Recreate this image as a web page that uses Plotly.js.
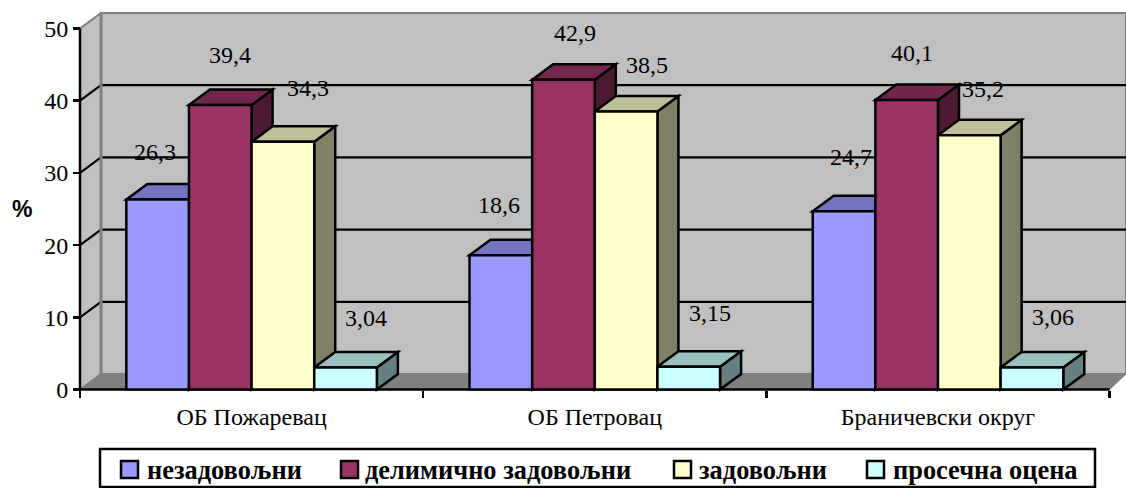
<!DOCTYPE html>
<html>
<head>
<meta charset="utf-8">
<script src="https://cdn.plot.ly/plotly-3.0.1.min.js"></script>
<style>html,body{margin:0;padding:0;background:#fff;overflow:hidden}</style>
</head>
<body>
<div id="chart" style="width:1126px;height:488px"></div>
<script>
const categories = ["ОБ Пожаревац", "ОБ Петровац", "Браничевски округ"];
const seriesNames = ["незадовољни", "делимично задовољни", "задовољни", "просечна оцена"];
const nezadovoljni = [26.3, 18.6, 24.7];
const delimicno = [39.4, 42.9, 40.1];
const zadovoljni = [34.3, 38.5, 35.2];
const prosecna = [3.04, 3.15, 3.06];
const labelsA = ["26,3", "18,6", "24,7"];
const labelsB = ["39,4", "42,9", "40,1"];
const labelsC = ["34,3", "38,5", "35,2"];
const labelsD = ["3,04", "3,15", "3,06"];
const yTicks = [0, 10, 20, 30, 40, 50];

const series = [nezadovoljni, delimicno, zadovoljni, prosecna];
const labels = [labelsA, labelsB, labelsC, labelsD];
const frontCol = ["#9999FF", "#993366", "#FFFFCC", "#CCFFFF"];
const topCol = ["#7373BF", "#73264D", "#BFBF99", "#99BFBF"];
const sideCol = ["#4D4D80", "#4D1A33", "#808066", "#668080"];
// label nudges in px (x, y) relative to the bar centre and top
const nudgeX = [[-3,-2,7],[10,12,5],[25,21,14],[20,21,21]];
const nudgeY = [[48,50,54],[50,47,47],[54,47,46],[50,54,50]];
// hand-laid legend geometry, px
const legendSwatchX = [121, 341, 674, 867];
const legendTextX = [146, 364, 698, 892];

const pxX = 343.2, pxY = 7.22;
const xMin = -4 / pxX, xMax = 1046 / pxX;
const yMin = -3.5 / pxY, yMax = 377.5 / pxY;
const dx = 21 / pxX, dy = 15.5 / pxY;
const gap = 0.27, barW = (1 - gap) / 4;
const centers = categories.map((_, i) => i + 0.5);
const paperX = px => (px - 76) / 1050;
const paperY = py => 1 - (py - 12) / 381;

const poly = (pts, fill, lineCol, lw) => ({
  type: "path", xref: "x", yref: "y", layer: "below",
  path: "M" + pts.map(p => p[0] + " " + p[1]).join("L") + "Z",
  fillcolor: fill, line: {color: lineCol, width: lw}
});
const seg = (x0, y0, x1, y1, col, lw) => ({
  type: "line", xref: "x", yref: "y", layer: "below",
  x0, y0, x1, y1, line: {color: col, width: lw}
});

const shapes = [
  poly([[dx,dy],[xMax,dy],[xMax,50+dy],[dx,50+dy]], "#C0C0C0", "#808080", 2),
  poly([[0,0],[dx,dy],[dx,50+dy],[0,50]], "#C0C0C0", "#808080", 2),
  poly([[0,0],[dx,dy],[xMax,dy],[xMax,dy],[3,0]], "#808080", "#808080", 1)
];
yTicks.slice(1, -1).forEach(t => {
  shapes.push(seg(0, t, dx, t + dy, "#000", 2.2));
  shapes.push(seg(dx, t + dy, xMax, t + dy, "#000", 2.2));
});
shapes.push(seg(dx, dy, dx, 50 + dy, "#808080", 3));
shapes.push(seg(0, 0, 0, 50, "#000", 2.5));
shapes.push(seg(0, 0, 3, 0, "#000", 2.5));

const annotations = [];
centers.forEach((c, g) => {
  series.forEach((vals, s) => {
    const v = vals[g];
    const x0 = c + (s - 2) * barW, x1 = x0 + barW;
    shapes.push(poly([[x1,0],[x1,v],[x1+dx,v+dy],[x1+dx,dy]], sideCol[s], "#000", 2.5));
    shapes.push(poly([[x0,v],[x1,v],[x1+dx,v+dy],[x0+dx,v+dy]], topCol[s], "#000", 2.5));
    annotations.push({
      x: (x0 + x1) / 2, y: v, xref: "x", yref: "y", text: labels[s][g], showarrow: false,
      xshift: nudgeX[s][g], yshift: nudgeY[s][g], xanchor: "center", yanchor: "middle",
      font: {family: "Liberation Serif", size: 24, color: "#000"}
    });
  });
});
annotations.push({
  xref: "paper", yref: "paper", x: paperX(22), y: paperY(209), text: "<b>%</b>",
  showarrow: false, xanchor: "center", yanchor: "middle",
  font: {family: "Liberation Sans", size: 23, color: "#000"}
});

// legend box, swatches and names
shapes.push({type: "rect", xref: "paper", yref: "paper", layer: "above",
  x0: paperX(100), x1: paperX(1095), y0: paperY(449), y1: paperY(487),
  fillcolor: "#fff", line: {color: "#000", width: 2.5}});
seriesNames.forEach((name, s) => {
  shapes.push({type: "rect", xref: "paper", yref: "paper", layer: "above",
    x0: paperX(legendSwatchX[s]), x1: paperX(legendSwatchX[s] + 17), y0: paperY(461), y1: paperY(478),
    fillcolor: frontCol[s], line: {color: "#000", width: 2.5}});
  annotations.push({xref: "paper", yref: "paper", x: paperX(legendTextX[s] - 1), y: paperY(470),
    text: "<b>" + name + "</b>", showarrow: false, xanchor: "left", yanchor: "middle",
    font: {family: "Liberation Serif", size: 26.4, color: "#000"}});
});

const traces = series.map((vals, s) => ({
  type: "bar", name: seriesNames[s], x: centers, y: vals,
  marker: {color: frontCol[s], line: {color: "#000", width: 2.5}},
  hoverinfo: "x+y"
}));

const layout = {
  width: 1126, height: 488,
  margin: {l: 76, r: 0, t: 12, b: 95, pad: 0},
  paper_bgcolor: "#fff", plot_bgcolor: "#fff",
  barmode: "group", bargap: gap, bargroupgap: 0,
  font: {family: "Liberation Serif", color: "#000"},
  xaxis: {
    range: [xMin, xMax], anchor: "free", position: 3.5 / 381, showgrid: false, zeroline: false,
    tickmode: "array", tickvals: centers, ticktext: categories, ticks: "", ticklabelstandoff: 10,
    tickfont: {family: "Liberation Serif", size: 24, color: "#000"},
    minor: {tickmode: "array", tickvals: [0, 1, 2, 3], ticks: "outside", ticklen: 7, tickwidth: 2.5, tickcolor: "#000", showgrid: false}
  },
  yaxis: {
    range: [yMin, yMax], anchor: "free", position: 4 / 1050, showgrid: false, zeroline: false,
    tickmode: "array", tickvals: yTicks, ticktext: yTicks.map(String), ticks: "outside",
    ticklen: 7, tickwidth: 2.5, tickcolor: "#000",
    tickfont: {family: "Liberation Serif", size: 24, color: "#000"}
  },
  showlegend: false,
  shapes, annotations
};
Plotly.newPlot("chart", traces, layout, {displayModeBar: false, staticPlot: true});
</script>
</body>
</html>
